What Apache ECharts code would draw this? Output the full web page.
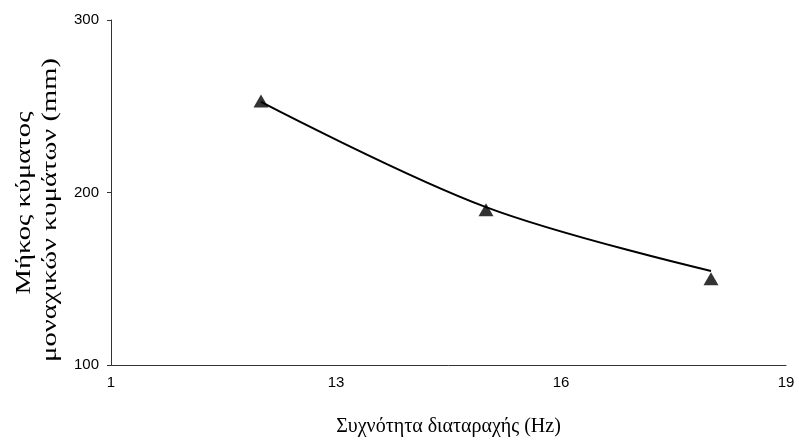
<!DOCTYPE html>
<html>
<head>
<meta charset="utf-8">
<script src="https://cdn.jsdelivr.net/npm/echarts@6/dist/echarts.min.js"></script>
<style>
  html, body { margin: 0; padding: 0; background: #fff; }
  #chart { width: 799px; height: 442px; }
</style>
</head>
<body>
<div id="chart"></div>
<script>
// Disturbance frequency (Hz) for each measurement
const frequencies = [12, 15, 18];
// Measured solitary wave length (mm)
const measuredLengths = [253, 190, 150];
// Smoothed trend through the measurements (mm)
const trendLengths = [252.5, 191.5, 154.5];
// Axis tick labels as printed
const xTickLabels = { 10: '1', 13: '13', 16: '16', 19: '19' };
// Vertical axis title, one entry per line
const yTitleLines = ['Μήκος κύματος', 'μοναχικών κυμάτων (mm)'];

const chart = echarts.init(document.getElementById('chart'));

// Rotated, slightly widened title lines for the vertical axis
const yTitleSpots = [{ x: 24, y: 203 }, { x: 50, y: 210 }];
const yTitleGraphics = yTitleLines.map((line, i) => ({
  type: 'text',
  x: yTitleSpots[i].x,
  y: yTitleSpots[i].y,
  rotation: Math.PI / 2,
  scaleX: 1.3,
  style: {
    text: line,
    font: '22px "Liberation Serif"',
    fill: '#000',
    textAlign: 'center',
    textVerticalAlign: 'middle'
  }
}));

chart.setOption({
  animation: false,
  backgroundColor: '#ffffff',
  grid: { left: 111, right: 13, top: 20, bottom: 76 },
  graphic: yTitleGraphics,
  xAxis: {
    type: 'value',
    min: 10,
    max: 19,
    interval: 3,
    name: 'Συχνότητα διαταραχής (Hz)',
    nameLocation: 'middle',
    nameGap: 52,
    nameTextStyle: { fontFamily: 'Liberation Serif', fontSize: 20, color: '#000' },
    axisLine: { show: true, lineStyle: { color: '#333', width: 1 } },
    axisTick: { show: false },
    splitLine: { show: false },
    axisLabel: {
      margin: 10,
      fontFamily: 'Liberation Sans',
      fontSize: 15,
      color: '#000',
      formatter: v => xTickLabels[v] !== undefined ? xTickLabels[v] : ''
    }
  },
  yAxis: {
    type: 'value',
    min: 100,
    max: 300,
    interval: 100,
    axisLine: { show: true, lineStyle: { color: '#333', width: 1 } },
    axisTick: { show: true, length: 4, lineStyle: { color: '#333' } },
    splitLine: { show: false },
    axisLabel: {
      margin: 12,
      fontFamily: 'Liberation Sans',
      fontSize: 15,
      color: '#000'
    }
  },
  series: [
    {
      type: 'line',
      data: frequencies.map((f, i) => [f, trendLengths[i]]),
      smooth: 0.35,
      showSymbol: false,
      lineStyle: { color: '#000', width: 2 },
      z: 2
    },
    {
      type: 'scatter',
      data: frequencies.map((f, i) => [f, measuredLengths[i]]),
      symbol: 'triangle',
      symbolSize: [15, 13],
      itemStyle: { color: '#000' },
      z: 3
    }
  ]
});
</script>
</body>
</html>
